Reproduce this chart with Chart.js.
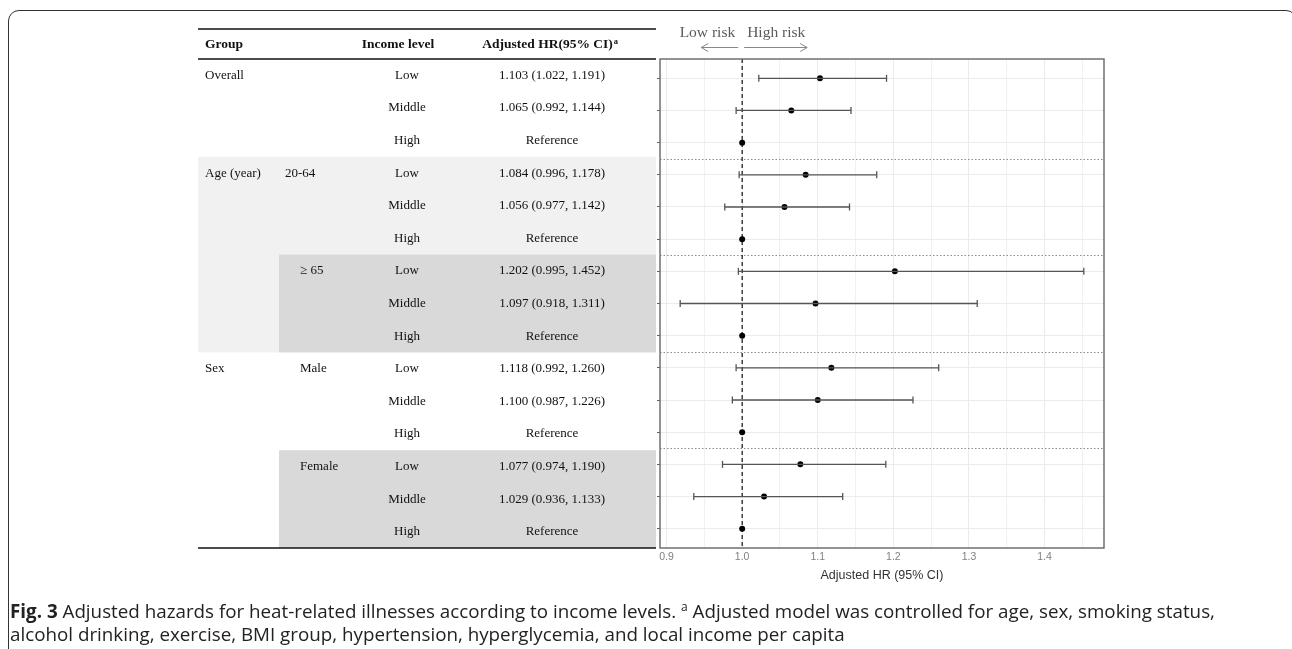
<!DOCTYPE html>
<html>
<head>
<meta charset="utf-8">
<script src="https://cdn.jsdelivr.net/npm/chart.js@4.4.0/dist/chart.umd.min.js"></script>
<style>
body{margin:0;background:#fff;width:1292px;height:649px;overflow:hidden;position:relative;}
#frame{position:absolute;left:8px;top:10px;width:1289px;height:700px;box-sizing:border-box;border:1.5px solid #333;border-radius:11px;}
#wrap{position:absolute;left:0;top:0;width:1292px;height:600px;}
#caption{position:absolute;left:10px;top:600px;width:1275px;font-family:"Open Sans",sans-serif;font-size:18.8px;line-height:23px;color:#222;white-space:nowrap;}
#caption sup{font-size:12px;line-height:0;}
</style>
</head>
<body>
<div id="frame"></div>
<div id="wrap"><canvas id="forest"></canvas></div>
<div id="caption"><b>Fig. 3</b> Adjusted hazards for heat-related illnesses according to income levels. <sup>a</sup> Adjusted model was controlled for age, sex, smoking status,<br>alcohol drinking, exercise, BMI group, hypertension, hyperglycemia, and local income per capita</div>
<script>
/* =========================
   DATA
========================= */
const groups    = ['Overall','','','Age (year)','','','','','','Sex','','','','',''];
const subgroups = ['','','','20-64','','','≥ 65','','','Male','','','Female','',''];
const incomes   = ['Low','Middle','High','Low','Middle','High','Low','Middle','High','Low','Middle','High','Low','Middle','High'];
const hr    = [1.103,1.065,1.000,1.084,1.056,1.000,1.202,1.097,1.000,1.118,1.100,1.000,1.077,1.029,1.000];
const lower = [1.022,0.992,null,0.996,0.977,null,0.995,0.918,null,0.992,0.987,null,0.974,0.936,null];
const upper = [1.191,1.144,null,1.178,1.142,null,1.452,1.311,null,1.260,1.226,null,1.190,1.133,null];
const xTicks = [0.9,0.95,1.0,1.05,1.1,1.15,1.2,1.25,1.3,1.35,1.4,1.45];
const separators = [2.5,5.5,8.5,11.5];
const headers = ['Group','Income level','Adjusted HR(95% CI)'];

const hrText = hr.map((v,i) => lower[i] === null ? 'Reference'
    : v.toFixed(3) + ' (' + lower[i].toFixed(3) + ', ' + upper[i].toFixed(3) + ')');

const isMajor = v => Math.abs(Math.round(v*10) - v*10) < 1e-6;

/* =========================
   DATASETS
========================= */
const datasets = [];
hr.forEach((v,i) => {
    if(lower[i] === null) return;
    datasets.push({
        data: [{x: lower[i], y: i}, {x: upper[i], y: i}],
        showLine: true,
        borderColor: '#555',
        borderWidth: 1.3,
        pointStyle: 'line',
        rotation: 90,
        pointRadius: 3.5,
        pointBorderColor: '#555',
        pointBorderWidth: 1.3,
        pointHoverRadius: 0
    });
});
datasets.push({
    data: hr.map((v,i) => ({x: v, y: i})),
    pointRadius: 3,
    backgroundColor: '#000',
    borderColor: '#000',
    borderWidth: 0
});

/* =========================
   DECORATION (table, ref line, frame)
========================= */
const serif = '"Liberation Serif", "DejaVu Serif", serif';

const decor = {
    id: 'decor',
    beforeDatasetsDraw(chart){
        const ctx = chart.ctx, a = chart.chartArea;
        const xs = chart.scales.x, ys = chart.scales.y;
        ctx.save();
        // group separators
        ctx.strokeStyle = '#8c8c8c';
        ctx.lineWidth = 1;
        ctx.setLineDash([1.5,2]);
        separators.forEach(s => {
            const y = Math.round(ys.getPixelForValue(s)) + 0.5;
            ctx.beginPath(); ctx.moveTo(a.left, y); ctx.lineTo(a.right, y); ctx.stroke();
        });
        // reference line at HR = 1
        ctx.strokeStyle = '#111';
        ctx.lineWidth = 1.2;
        ctx.setLineDash([4,3]);
        const x1 = xs.getPixelForValue(1);
        ctx.beginPath(); ctx.moveTo(x1, a.top); ctx.lineTo(x1, a.bottom); ctx.stroke();
        ctx.restore();
    },
    afterDatasetsDraw(chart){
        const ctx = chart.ctx, a = chart.chartArea;
        ctx.save();
        ctx.strokeStyle = '#666';
        ctx.lineWidth = 1.4;
        ctx.strokeRect(a.left, a.top, a.right - a.left, a.bottom - a.top);
        ctx.restore();
    },
    afterDraw(chart){
        const ctx = chart.ctx, a = chart.chartArea;
        const xs = chart.scales.x;
        const L = 198, R = 656, C2 = 279;
        const rowH = (a.bottom - a.top) / hr.length;
        ctx.save();

        // shaded blocks
        ctx.fillStyle = '#f1f1f1';
        ctx.fillRect(L, a.top + 3*rowH, R - L, 6*rowH);
        ctx.fillStyle = '#d9d9d9';
        ctx.fillRect(C2, a.top + 6*rowH, R - C2, 3*rowH);
        ctx.fillRect(C2, a.top + 12*rowH, R - C2, 3*rowH);

        // rules
        ctx.strokeStyle = '#111';
        ctx.lineWidth = 1.5;
        [29, a.top, a.bottom].forEach(y => {
            ctx.beginPath(); ctx.moveTo(L, y); ctx.lineTo(R, y); ctx.stroke();
        });

        // header
        ctx.fillStyle = '#111';
        ctx.textBaseline = 'middle';
        ctx.font = 'bold 13.5px ' + serif;
        ctx.textAlign = 'left';
        ctx.fillText(headers[0], 205, 45);
        ctx.textAlign = 'center';
        ctx.fillText(headers[1], 398, 45);
        const hw = ctx.measureText(headers[2]).width;
        ctx.textAlign = 'left';
        ctx.fillText(headers[2], 550 - (hw + 5)/2, 45);
        ctx.font = 'bold 8.5px ' + serif;
        ctx.fillText('a', 550 - (hw + 5)/2 + hw + 1, 42);

        // body
        ctx.font = '13px ' + serif;
        hr.forEach((v,i) => {
            const y = a.top + (i + 0.5)*rowH;
            const dark = (i >= 6 && i <= 8) || i >= 12;
            ctx.textAlign = 'left';
            if(groups[i]) ctx.fillText(groups[i], 205, y);
            if(subgroups[i]) ctx.fillText(subgroups[i], dark || i >= 9 ? 300 : 285, y);
            ctx.textAlign = 'center';
            ctx.fillText(incomes[i], 407, y);
            ctx.fillText(hrText[i], 552, y);
        });

        // risk direction labels
        const xr = xs.getPixelForValue(1);
        ctx.fillStyle = '#5a5a5a';
        ctx.font = '15.5px ' + serif;
        ctx.textAlign = 'right';
        ctx.fillText('Low risk', xr - 7, 33);
        ctx.textAlign = 'left';
        ctx.fillText('High risk', xr + 5, 33);
        ctx.strokeStyle = '#888';
        ctx.lineWidth = 1;
        ctx.beginPath();
        ctx.moveTo(xr - 4, 47.5); ctx.lineTo(xr - 41, 47.5);
        ctx.moveTo(xr - 34, 43.5); ctx.lineTo(xr - 41, 47.5); ctx.lineTo(xr - 34, 51.5);
        ctx.moveTo(xr + 2, 47.5); ctx.lineTo(xr + 65, 47.5);
        ctx.moveTo(xr + 58, 43.5); ctx.lineTo(xr + 65, 47.5); ctx.lineTo(xr + 58, 51.5);
        ctx.stroke();
        ctx.restore();
    }
};

/* =========================
   CHART
========================= */
new Chart(document.getElementById('forest'), {
    type: 'scatter',
    data: { datasets: datasets },
    plugins: [decor],
    options: {
        responsive: true,
        maintainAspectRatio: false,
        animation: false,
        events: [],
        layout: { padding: { left: 657, right: 188, top: 59, bottom: 17 } },
        plugins: { legend: { display: false }, tooltip: { enabled: false } },
        scales: {
            x: {
                type: 'linear',
                min: 0.8913,
                max: 1.4787,
                afterBuildTicks: s => { s.ticks = xTicks.map(v => ({ value: v })); },
                afterFit: s => { s.height = 35; },
                ticks: {
                    autoSkip: false,
                    maxRotation: 0,
                    padding: 3,
                    color: '#808080',
                    font: { family: '"Liberation Sans", Arial, sans-serif', size: 10.5 },
                    callback: v => isMajor(v) ? v.toFixed(1) : ''
                },
                grid: {
                    color: '#ebebeb',
                    lineWidth: c => isMajor(c.tick.value) ? 1 : 0.7,
                    drawTicks: false
                },
                border: { display: false },
                title: {
                    display: true,
                    text: 'Adjusted HR (95% CI)',
                    color: '#333',
                    padding: 0,
                    font: { family: '"Liberation Sans", Arial, sans-serif', size: 12.5 }
                }
            },
            y: {
                type: 'linear',
                reverse: true,
                min: -0.6,
                max: 14.6,
                afterBuildTicks: s => { s.ticks = hr.map((v,i) => ({ value: i })); },
                afterFit: s => { s.width = 3; },
                ticks: { display: false },
                grid: { color: '#ebebeb', lineWidth: 1, drawTicks: true, tickLength: 3, tickColor: '#666' },
                border: { display: false }
            }
        }
    }
});
</script>
</body>
</html>
